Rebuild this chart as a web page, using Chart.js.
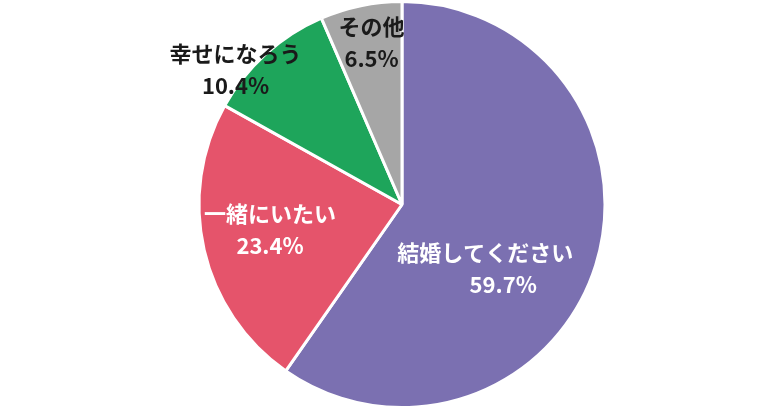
<!DOCTYPE html>
<html><head><meta charset="utf-8">
<script src="https://cdn.jsdelivr.net/npm/chart.js@4/dist/chart.umd.min.js"></script>
<style>html,body{margin:0;padding:0;background:#fff}#w{width:770px;height:409px}</style>
</head><body><div id="w"><canvas id="c"></canvas></div>
<script>
const categories = ["結婚してください", "一緒にいたい", "幸せになろう", "その他"];
const values = [59.7, 23.4, 10.4, 6.5];
const colors = ["#7B70B1", "#E5546B", "#1EA55B", "#A6A6A6"];
const labelColors = ["#fff", "#fff", "#1a1a1a", "#1a1a1a"];
const labelPos = [[0.41, 0.31], [-0.65, 0.12], [-0.82, -0.67], [-0.15, -0.80]];

const labelPlugin = {
  id: 'lbl',
  afterDatasetsDraw(chart) {
    const ctx = chart.ctx;
    const arc = chart.getDatasetMeta(0).data[0];
    const cx = arc.x, cy = arc.y, r = arc.outerRadius;
    ctx.save();
    ctx.font = 'bold 22px "Noto Sans CJK JP"';
    ctx.textAlign = 'center';
    ctx.textBaseline = 'middle';
    categories.forEach((c, i) => {
      const x = cx + labelPos[i][0] * r, y = cy + labelPos[i][1] * r;
      ctx.fillStyle = labelColors[i];
      ctx.fillText(c, x, y - 15);
      ctx.fillText(values[i].toFixed(1) + '%', x + (i === 0 ? 18 : 0), y + 17);
    });
    ctx.restore();
  }
};

new Chart(document.getElementById('c'), {
  type: 'pie',
  data: { labels: categories, datasets: [{ data: values, backgroundColor: colors, borderColor: '#fff', borderWidth: 3 }] },
  options: {
    responsive: true, maintainAspectRatio: false, animation: false,
    layout: { padding: { left: 34, top: 0, bottom: 0 } },
    plugins: { legend: { display: false }, tooltip: { enabled: false } }
  },
  plugins: [labelPlugin]
});
</script></body></html>
